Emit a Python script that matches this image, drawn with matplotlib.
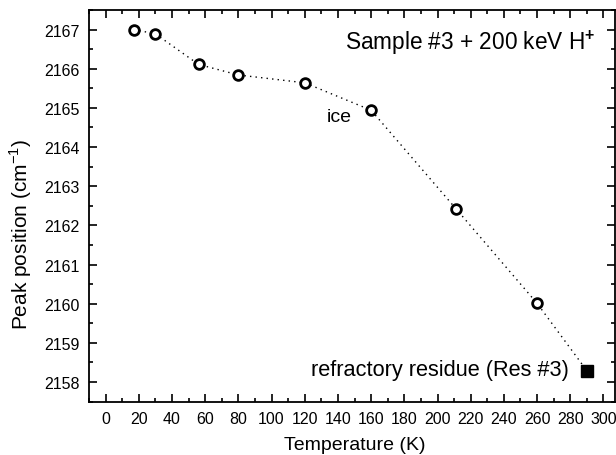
import matplotlib.pyplot as plt
from matplotlib.ticker import MultipleLocator

plt.rcParams['font.family'] = ['Liberation Sans', 'DejaVu Sans']
plt.rcParams['mathtext.fontset'] = 'custom'
plt.rcParams['mathtext.rm'] = 'Liberation Sans'
plt.rcParams['mathtext.bf'] = 'Liberation Sans:bold'

# ice peak positions vs temperature
temps = [17, 30, 56, 80, 120, 160, 211, 260]
peaks = [2167.0, 2166.89, 2166.11, 2165.84, 2165.64, 2164.94, 2162.43, 2160.01]

# refractory residue
res_temp = [290]
res_peak = [2158.29]

fig = plt.figure(figsize=(6.16, 4.56), dpi=100)
ax = fig.add_axes([0.1445, 0.117, 0.854, 0.859])

ax.plot(temps + res_temp, peaks + res_peak, linestyle=(0, (1, 3)), color='black', lw=1)
ax.plot(temps, peaks, 'o', mfc='white', mec='black', ms=7, mew=2)
ax.plot(res_temp, res_peak, 's', color='black', ms=8)

ax.set_xlim(-10, 307)
ax.set_ylim(2157.5, 2167.5)
ax.xaxis.set_major_locator(MultipleLocator(20))
ax.xaxis.set_minor_locator(MultipleLocator(10))
ax.yaxis.set_major_locator(MultipleLocator(1))
ax.yaxis.set_minor_locator(MultipleLocator(0.5))
ax.tick_params(which='both', direction='in', top=True, right=True, width=1.2, labelsize=11.5, pad=7)
ax.tick_params(which='major', length=6)
ax.tick_params(which='minor', length=3)
ax.ticklabel_format(useOffset=False)
for s in ax.spines.values():
    s.set_linewidth(1.3)

ax.set_xlabel('Temperature (K)', fontsize=14)
ax.set_ylabel('Peak position (cm$^{\\mathregular{-1}}$)', fontsize=15)
ax.xaxis.set_label_coords(0.505, -0.087)
ax.yaxis.set_label_coords(-0.104, 0.43)

ax.text(0.962, 0.955, 'Sample #3 + 200 keV H$^{\\mathbf{+}}$', transform=ax.transAxes,
        ha='right', va='top', fontsize=16.3)
ax.text(141, 2164.79, 'ice', fontsize=14, ha='center', va='center')
ax.text(279, 2158.33, 'refractory residue (Res #3)', fontsize=15.7, ha='right', va='center')

plt.savefig('out.png', dpi=100)
